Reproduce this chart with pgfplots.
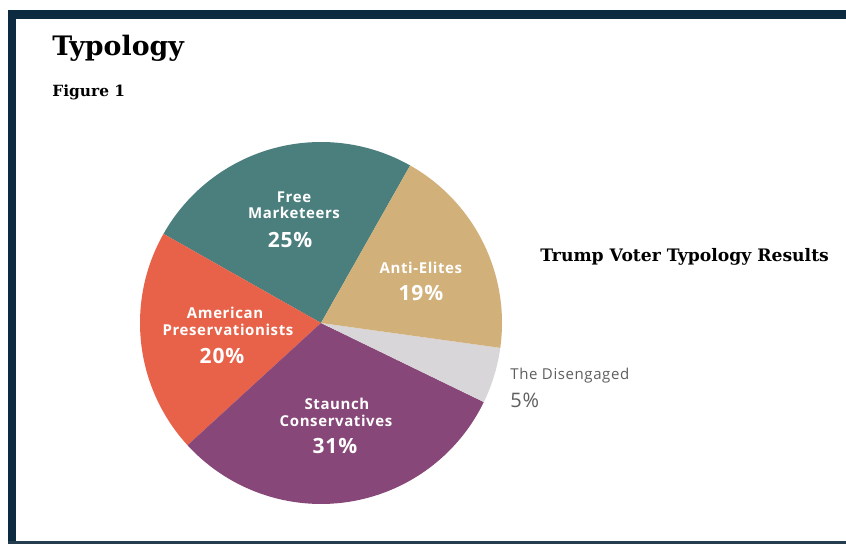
\documentclass[border=0pt]{standalone}
\usepackage{pgfplots}
\pgfplotsset{compat=1.18}
\usepackage{pgfplotstable}
\usepackage{fontspec}
\setmainfont{DejaVu Serif}
\newfontfamily\lab[LetterSpace=4]{Open Sans}
\definecolor{navy}{HTML}{0D2B40}
\definecolor{cFree}{HTML}{4A7F7D}
\definecolor{cAmer}{HTML}{E8624A}
\definecolor{cStaunch}{HTML}{874778}
\definecolor{cDis}{HTML}{D8D6D8}
\definecolor{cAnti}{HTML}{D1B07A}
\definecolor{cGrayTxt}{HTML}{5E5E5E}
\pgfplotstableread{
name value color
Free 25 cFree
American 20 cAmer
Staunch 31 cStaunch
Disengaged 5 cDis
Anti 19 cAnti
}\piedata
\begin{document}
\begin{tikzpicture}[x=0.5pt,y=0.5pt]
\path[use as bounding box] (0,0) rectangle (846,544);
\fill[navy] (8,525) rectangle (846,534);
\fill[navy] (8,0) rectangle (16,534);
\fill[navy!80!gray] (8,0) rectangle (846,2.5);
\node[anchor=base west,inner sep=0pt,font=\fontsize{13.4pt}{16pt}\selectfont\bfseries] at (52,488) {Typology};
\node[anchor=base west,inner sep=0pt,font=\fontsize{7.7pt}{10pt}\selectfont\bfseries] at (52,447) {Figure 1};
\begin{axis}[at={(160.5pt,110.5pt)},anchor=center,width=181pt,height=181pt,scale only axis,
  xmin=-1,xmax=1,ymin=-1,ymax=1,hide axis,clip=false]
\pgfplotstablegetrowsof{\piedata}
\edef\N{\the\numexpr\pgfplotsretval-1\relax}
\gdef\angstart{60.5}
\pgfplotsforeachungrouped \i in {0,...,\N}{%
  \pgfplotstablegetelem{\i}{value}\of\piedata \let\v\pgfplotsretval
  \pgfplotstablegetelem{\i}{color}\of\piedata \let\c\pgfplotsretval
  \pgfmathsetmacro\angend{\angstart+3.6*\v}%
  \edef\temp{\noexpand\fill[\c] (axis cs:0,0) -- (axis cs:{cos(\angstart)},{sin(\angstart)}) arc[start angle=\angstart, end angle=\angend, radius=1] -- cycle;}%
  \temp
  \global\let\angstart\angend
}
\tikzset{sl/.style={text=white,inner sep=0pt,font=\lab\bfseries\fontsize{7.5pt}{9pt}\selectfont},
  pc/.style={text=white,inner sep=0pt,font=\lab\bfseries\fontsize{10.5pt}{12pt}\selectfont}}
\node[sl] at (axis cs:-0.149,0.696) {Free};
\node[sl] at (axis cs:-0.149,0.608) {Marketeers};
\node[pc] at (axis cs:-0.171,0.459) {25\%};
\node[sl] at (axis cs:0.552,0.304) {Anti-Elites};
\node[pc] at (axis cs:0.552,0.166) {19\%};
\node[sl] at (axis cs:-0.530,0.055) {American};
\node[sl] at (axis cs:-0.514,-0.039) {Preservationists};
\node[pc] at (axis cs:-0.547,-0.182) {20\%};
\node[sl] at (axis cs:0.088,-0.448) {Staunch};
\node[sl] at (axis cs:0.083,-0.541) {Conservatives};
\node[pc] at (axis cs:0.077,-0.680) {31\%};
\node[anchor=west,text=cGrayTxt,inner sep=0pt,font=\lab\fontsize{7.5pt}{9pt}\selectfont] at (axis cs:1.044,-0.293) {The Disengaged};
\node[anchor=west,text=cGrayTxt,inner sep=0pt,font=\lab\fontsize{10pt}{12pt}\selectfont] at (axis cs:1.044,-0.425) {5\%};
\node[anchor=west,inner sep=0pt,font=\bfseries\fontsize{8.6pt}{11pt}\selectfont] at (axis cs:1.21,0.365) {Trump Voter Typology Results};
\end{axis}
\end{tikzpicture}
\end{document}
